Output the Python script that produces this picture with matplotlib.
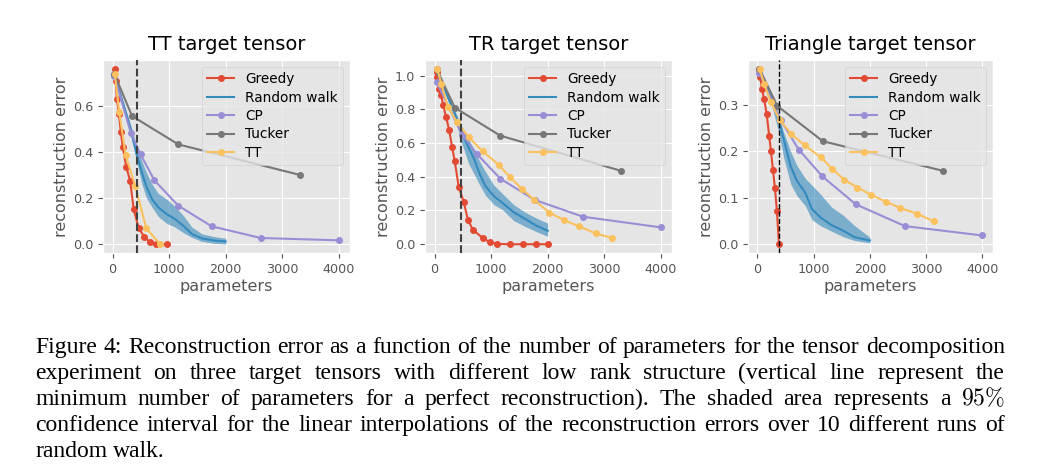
import matplotlib
matplotlib.use('Agg')
import matplotlib.pyplot as plt
import numpy as np

plt.style.use('ggplot')

# ---- TT target tensor ----
tt_greedy_x = [35, 59, 76, 112, 147, 182, 241, 311, 375, 460, 564, 670, 770, 957]
tt_greedy_y = [0.761, 0.709, 0.63, 0.566, 0.487, 0.42, 0.337, 0.275, 0.151, 0.072, 0.03, 0.008, 0.001, 0.0]
tt_rw_x = [30, 200, 330, 430, 520, 600, 700, 810, 960, 1100, 1250, 1400, 1580, 1800, 2000]
tt_rw_mean = [0.735, 0.60, 0.49, 0.39, 0.31, 0.25, 0.195, 0.16, 0.13, 0.11, 0.08, 0.045, 0.025, 0.016, 0.012]
tt_rw_lo = [0.73, 0.59, 0.46, 0.355, 0.26, 0.20, 0.16, 0.12, 0.09, 0.075, 0.05, 0.03, 0.012, 0.004, 0.001]
tt_rw_hi = [0.74, 0.61, 0.51, 0.42, 0.36, 0.31, 0.26, 0.22, 0.195, 0.165, 0.125, 0.075, 0.045, 0.033, 0.026]
tt_cp_x = [30, 323, 495, 740, 1163, 1750, 2620, 4000]
tt_cp_y = [0.73, 0.483, 0.39, 0.277, 0.167, 0.078, 0.027, 0.017]
tt_tucker_x = [30, 345, 1163, 3307]
tt_tucker_y = [0.74, 0.556, 0.433, 0.301]
tt_tt_x = [40, 117, 232, 400, 596, 840]
tt_tt_y = [0.739, 0.575, 0.386, 0.253, 0.07, 0.0]
tt_vline = 429

# ---- TR target tensor ----
tr_greedy_x = [35, 47, 82, 117, 152, 205, 258, 310, 357, 428, 515, 591, 679, 852, 975, 1105, 1335, 1570, 1800, 2010]
tr_greedy_y = [1.02, 0.99, 0.92, 0.885, 0.826, 0.753, 0.678, 0.576, 0.493, 0.34, 0.251, 0.145, 0.084, 0.038, 0.012, 0.002, 0.0, 0.0, 0.0, 0.0]
tr_rw_x = [30, 200, 350, 480, 600, 700, 800, 900, 1050, 1200, 1400, 1600, 1800, 2000]
tr_rw_mean = [1.03, 0.90, 0.78, 0.665, 0.575, 0.505, 0.415, 0.345, 0.285, 0.245, 0.19, 0.15, 0.11, 0.08]
tr_rw_lo = [1.025, 0.89, 0.76, 0.60, 0.48, 0.415, 0.35, 0.29, 0.235, 0.205, 0.14, 0.105, 0.075, 0.047]
tr_rw_hi = [1.035, 0.91, 0.80, 0.70, 0.625, 0.56, 0.49, 0.43, 0.35, 0.30, 0.235, 0.19, 0.155, 0.125]
tr_cp_x = [35, 486, 745, 1165, 1770, 2624, 4000]
tr_cp_y = [0.963, 0.65, 0.536, 0.388, 0.263, 0.163, 0.1]
tr_tucker_x = [35, 357, 1160, 3297]
tr_tucker_y = [1.04, 0.81, 0.644, 0.435]
tr_tt_x = [47, 123, 234, 401, 603, 849, 1133, 1338, 1555, 1766, 2026, 2290, 2553, 2846, 3139]
tr_tt_y = [1.04, 0.947, 0.816, 0.722, 0.635, 0.552, 0.471, 0.397, 0.325, 0.262, 0.188, 0.143, 0.106, 0.065, 0.037]
tr_vline = 474

# ---- Triangle target tensor ----
tri_greedy_x = [35, 50, 82, 117, 164, 208, 241, 276, 311, 347, 382]
tri_greedy_y = [0.378, 0.36, 0.334, 0.313, 0.281, 0.234, 0.2, 0.16, 0.121, 0.071, 0.0]
tri_rw_x = [30, 200, 380, 470, 590, 700, 850, 970, 1120, 1320, 1530, 1730, 2000]
tri_rw_mean = [0.373, 0.33, 0.268, 0.225, 0.168, 0.137, 0.111, 0.076, 0.058, 0.041, 0.029, 0.015, 0.008]
tri_rw_lo = [0.37, 0.325, 0.24, 0.185, 0.13, 0.105, 0.083, 0.053, 0.04, 0.028, 0.016, 0.008, 0.003]
tri_rw_hi = [0.376, 0.335, 0.275, 0.24, 0.20, 0.17, 0.142, 0.127, 0.108, 0.08, 0.062, 0.04, 0.015]
tri_cp_x = [35, 411, 734, 1157, 1750, 2626, 3994]
tri_cp_y = [0.369, 0.268, 0.204, 0.146, 0.086, 0.039, 0.019]
tri_tucker_x = [35, 352, 1163, 3307]
tri_tucker_y = [0.378, 0.298, 0.222, 0.158]
tri_tt_x = [41, 117, 235, 394, 599, 840, 1131, 1333, 1545, 1780, 2015, 2279, 2543, 2837, 3142]
tri_tt_y = [0.378, 0.346, 0.307, 0.268, 0.238, 0.213, 0.187, 0.162, 0.139, 0.122, 0.107, 0.092, 0.078, 0.066, 0.049]
tri_vline = 382

titles = ['TT target tensor', 'TR target tensor', 'Triangle target tensor']

caption_lines = [
    'Figure 4: Reconstruction error as a function of the number of parameters for the tensor decomposition',
    'experiment on three target tensors with different low rank structure (vertical line represent the',
    'minimum number of parameters for a perfect reconstruction). The shaded area represents a 95%',
    'confidence interval for the linear interpolations of the reconstruction errors over 10 different runs of',
    'random walk.',
]

panels = [
    (tt_greedy_x, tt_greedy_y, tt_rw_x, tt_rw_mean, tt_rw_lo, tt_rw_hi, tt_cp_x, tt_cp_y,
     tt_tucker_x, tt_tucker_y, tt_tt_x, tt_tt_y, tt_vline),
    (tr_greedy_x, tr_greedy_y, tr_rw_x, tr_rw_mean, tr_rw_lo, tr_rw_hi, tr_cp_x, tr_cp_y,
     tr_tucker_x, tr_tucker_y, tr_tt_x, tr_tt_y, tr_vline),
    (tri_greedy_x, tri_greedy_y, tri_rw_x, tri_rw_mean, tri_rw_lo, tri_rw_hi, tri_cp_x, tri_cp_y,
     tri_tucker_x, tri_tucker_y, tri_tt_x, tri_tt_y, tri_vline),
]

W, H = 1063, 476
fig = plt.figure(figsize=(W / 100, H / 100), dpi=100)
fig.patch.set_facecolor('white')

ax_lefts = [103, 425, 748]
ax_widths = [247, 247, 245]
vline_styles = [('#404040', 1.5), ('#404040', 1.5), ('black', 1.0)]

red, blue, purple, gray, yellow = '#E24A33', '#348ABD', '#988ED5', '#777777', '#FBC15E'

for i, p in enumerate(panels):
    (gx, gy, rx, rm, rlo, rhi, cx, cy, ux, uy, tx, ty, vx) = p
    ax = fig.add_axes([ax_lefts[i] / W, 1 - 253 / H, ax_widths[i] / W, 193 / H])
    ms = 4
    ax.plot(gx, gy, '-o', color=red, lw=1.5, ms=ms, label='Greedy')
    ax.fill_between(rx, rlo, rhi, color=blue, alpha=0.6, lw=0)
    ax.plot(rx, rm, '-', color=blue, lw=1.5, label='Random walk')
    ax.plot(cx, cy, '-o', color=purple, lw=1.5, ms=ms, label='CP')
    ax.plot(ux, uy, '-o', color=gray, lw=1.5, ms=ms, label='Tucker')
    ax.plot(tx, ty, '-o', color=yellow, lw=1.5, ms=ms, label='TT')
    c, lw = vline_styles[i]
    ax.axvline(vx, color=c, ls='--', lw=lw, zorder=5)
    ax.set_xticks([0, 1000, 2000, 3000, 4000])
    ax.tick_params(labelsize=9.2, colors='#555555')
    ax.set_xlabel('parameters', fontsize=11.5, color='#555555', labelpad=2)
    ax.set_ylabel('reconstruction error', fontsize=11.5, color='#555555', labelpad=3)
    ax.set_title(titles[i], fontsize=14, color='black', pad=7)
    ax.legend(loc='upper right', fontsize=9.8, labelspacing=0.32, borderpad=0.4,
              handlelength=2.0, framealpha=0.8)

# caption, justified like the paper's text block
renderer = fig.canvas.get_renderer()
x_left, x_right = 35, 1005

# size the serif font so the first line fills the text width with normal spacing
probe = fig.text(0, 0, caption_lines[0], fontsize=14, family='Liberation Serif')
cap_fs = 14 * (x_right - x_left) / probe.get_window_extent(renderer).width
probe.remove()

space_w = cap_fs * 100 / 72 * 0.25
for li, line in enumerate(caption_lines):
    y = 1 - (353 + 26 * li) / H
    words = line.split(' ')
    objs = []
    for w in words:
        if w == '95%':
            t = fig.text(0, y, r'$95\%$', fontsize=cap_fs, math_fontfamily='cm', va='baseline')
        else:
            t = fig.text(0, y, w, fontsize=cap_fs, family='Liberation Serif', va='baseline')
        objs.append(t)
    widths = [t.get_window_extent(renderer).width for t in objs]
    if li < len(caption_lines) - 1:
        gap = (x_right - x_left - sum(widths)) / (len(objs) - 1)
    else:
        gap = space_w
    x = x_left
    for t, w in zip(objs, widths):
        t.set_x(x / W)
        x += w + gap

fig.savefig('out.png', dpi=100)
